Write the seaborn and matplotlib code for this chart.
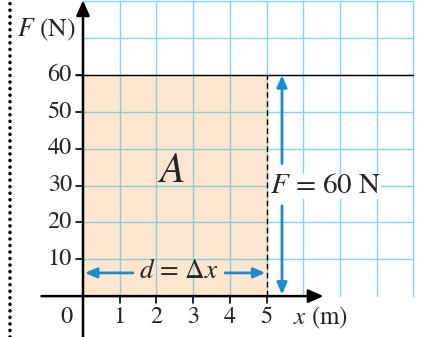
import numpy as np
import matplotlib
matplotlib.use("Agg")
import matplotlib.pyplot as plt
import seaborn as sns

# values
force = 60          # N, constant force
distance = 5        # m, displacement
x_ticks = [1, 2, 3, 4, 5]
y_ticks = [10, 20, 30, 40, 50, 60]
grid_x = np.arange(1, 10)     # grid columns (m)
grid_y = np.arange(10, 90, 10)  # grid rows (N)
x_max, y_max = 9, 80

sns.set_style("white")
plt.rcParams["font.family"] = ["STIXGeneral", "DejaVu Serif"]
plt.rcParams["mathtext.fontset"] = "stix"

fig = plt.figure(figsize=(4.23, 3.37), dpi=100)
ax = fig.add_axes([0, 0, 1, 1])
ax.set_xlim(-2.26, 9.26)
ax.set_ylim(-11.1, 80.4)
ax.axis("off")

peach = "#fce6d0"
blue_grid = "#80d4f6"
teal_grid = "#92cdd3"
arrow_blue = "#1a8cd0"
fs = 17.5

# work area A = F * d
d_vals = np.array([0, distance])
f_vals = np.array([force, force])
ax.fill_between(d_vals, 0, f_vals, color=peach, lw=0, zorder=1)

# grid
for gx in grid_x:
    if gx <= distance:
        ax.plot([gx, gx], [0, force], color=teal_grid, lw=1, zorder=2)
        ax.plot([gx, gx], [force, y_max], color=blue_grid, lw=1, zorder=2)
    else:
        ax.plot([gx, gx], [0, y_max], color=blue_grid, lw=1, zorder=2)
for gy in grid_y:
    c = teal_grid if gy <= force else blue_grid
    ax.plot([0, distance], [gy, gy], color=c, lw=1, zorder=2)
    ax.plot([distance, x_max], [gy, gy], color=blue_grid, lw=1, zorder=2)

# force line F = 60 N
sns.lineplot(x=[-0.19, x_max], y=[force, force], color="black", lw=1, ax=ax, zorder=3)
# dashed line at d
ax.plot([distance, distance], [0, force], color="black", lw=1, ls=(0, (4, 2.5)), zorder=3)

# ticks
for t in y_ticks:
    ax.plot([-0.19, 0], [t, t], color="black", lw=1.2, zorder=4)
    ax.text(-0.3, t, str(t), ha="right", va="center", fontsize=fs)
for t in x_ticks:
    ax.plot([t, t], [0, -2], color="black", lw=1.2, zorder=4)
    ax.text(t, -5.8, str(t), ha="center", va="center", fontsize=fs)
ax.text(-0.45, -5.8, "0", ha="center", va="center", fontsize=fs)

# axes with arrows
ax.annotate("", xy=(6.55, 0), xytext=(-1.13, 0),
            arrowprops=dict(arrowstyle="-|>,head_length=0.9,head_width=0.4",
                            color="black", lw=1.8, shrinkA=0, shrinkB=0), zorder=5)
ax.annotate("", xy=(0, 80.3), xytext=(0, -11.1),
            arrowprops=dict(arrowstyle="-|>,head_length=0.9,head_width=0.4",
                            color="black", lw=1.8, shrinkA=0, shrinkB=0), zorder=5)

# axis labels
ax.text(-1.8, 72.3, r"$F$ (N)", ha="left", va="center", fontsize=18.5)
ax.text(5.72, -5.8, r"$x$ (m)", ha="left", va="center", fontsize=18)

# area label
ax.text(2.4, 33.5, "$A$", ha="center", va="center", fontsize=30)

# blue arrows for force
blue_style = dict(arrowstyle="-|>,head_length=0.7,head_width=0.3",
                  color=arrow_blue, lw=2, shrinkA=0, shrinkB=0)
ax.annotate("", xy=(5.42, force), xytext=(5.42, 36), arrowprops=blue_style, zorder=6)
ax.annotate("", xy=(5.42, 0.4), xytext=(5.42, 24.5), arrowprops=blue_style, zorder=6)
ax.text(5.08, 29.8, r"$F$ = 60 N", ha="left", va="center", fontsize=21,
        bbox=dict(facecolor="white", edgecolor="none", pad=0.3))

# blue arrows for distance
ax.annotate("", xy=(0.05, 6.3), xytext=(1.36, 6.3), arrowprops=blue_style, zorder=6)
ax.annotate("", xy=(distance - 0.03, 6.3), xytext=(3.87, 6.3), arrowprops=blue_style, zorder=6)
ax.text(2.62, 6.6, r"$d$ = $\Delta x$", ha="center", va="center", fontsize=19.5)

# dotted margin line
ax.plot([-2.0, -2.0], [-11.1, 80.4], color="black", lw=2.6,
        ls=(0, (0.01, 1.8)), dash_capstyle="round", zorder=3)

fig.savefig("out.png", dpi=100)
